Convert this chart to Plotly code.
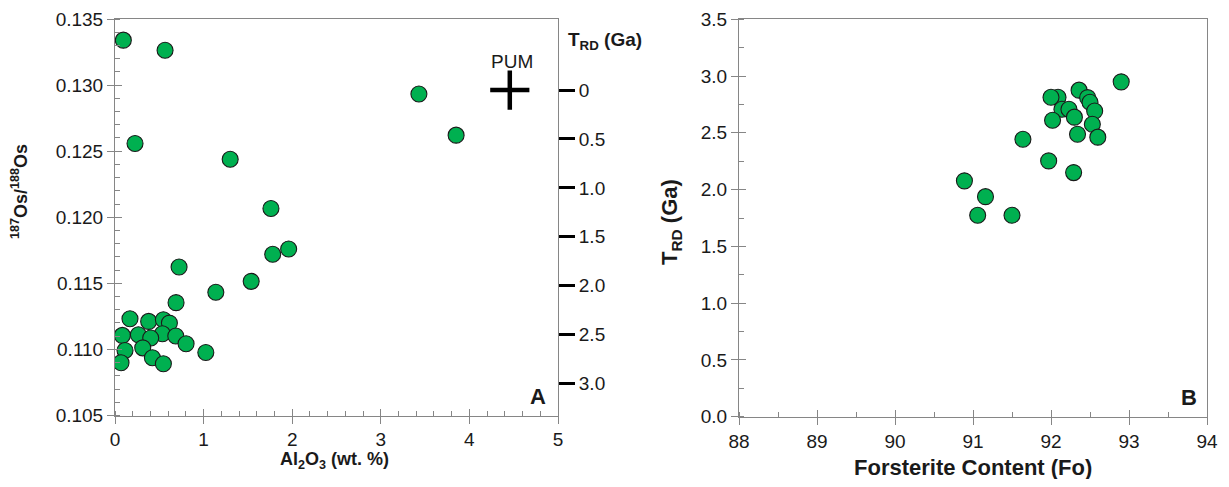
import plotly.graph_objects as go

# ---------- Panel A data ----------
al2o3 = [0.094, 0.565, 0.226, 1.30, 1.76, 1.78, 1.96, 0.723, 1.537, 1.138, 0.689,
         0.169, 0.380, 0.546, 0.614, 0.083, 0.264, 0.535, 0.403, 0.686, 0.802,
         0.113, 0.313, 1.025, 0.068, 0.422, 0.546, 3.43, 3.85]
os_ratio = [0.1334, 0.13263, 0.12558, 0.12439, 0.12066, 0.11720, 0.11760, 0.11624,
            0.11515, 0.11432, 0.11354, 0.11232, 0.11212, 0.11225, 0.11199, 0.11106,
            0.11111, 0.11119, 0.11086, 0.11101, 0.11043, 0.10992, 0.11012, 0.10977,
            0.10899, 0.10937, 0.10892, 0.12932, 0.12621]
pum_al2o3 = [4.456]
pum_os = [0.12962]

al2o3_ticks = [0, 1, 2, 3, 4, 5]
os_ticks = [0.105, 0.110, 0.115, 0.120, 0.125, 0.130, 0.135]
trd_ticks = [0, 0.5, 1.0, 1.5, 2.0, 2.5, 3.0]
trd_ticktext = ["0", "0.5", "1.0", "1.5", "2.0", "2.5", "3.0"]

# ---------- Panel B data ----------
fo = [92.90, 92.36, 92.09, 92.00, 92.47, 92.50, 92.56, 92.14, 92.23, 92.30, 92.02,
      92.53, 92.34, 92.60, 91.64, 91.97, 92.29, 90.89, 91.16, 91.06, 91.50]
trd = [2.949, 2.876, 2.814, 2.814, 2.81, 2.77, 2.693, 2.708, 2.708, 2.638, 2.611,
       2.576, 2.488, 2.462, 2.444, 2.253, 2.150, 2.077, 1.938, 1.774, 1.774]
fo_ticks = [88, 89, 90, 91, 92, 93, 94]
trd_b_ticks = [0, 0.5, 1.0, 1.5, 2.0, 2.5, 3.0, 3.5]

GREEN = "#00B050"
FONT = "Liberation Sans, Arial, sans-serif"
AXC = "#868686"
TXT = "#1a1a1a"

# page has an 8px body margin; figure fills the rest of the 1229x487 window
OFF = 8
FW, FH = 1229 - 2 * OFF, 487 - 2 * OFF


def PX(px):
    return (px - OFF) / FW


def PY(py):
    return 1 - (py - OFF) / FH


fig = go.Figure()
mk = dict(size=16, color=GREEN, line=dict(color="#1a1a1a", width=1.1))
fig.add_trace(go.Scatter(x=al2o3, y=os_ratio, mode="markers", marker=mk,
                         xaxis="x", yaxis="y", showlegend=False))
fig.add_trace(go.Scatter(x=pum_al2o3, y=pum_os, mode="markers",
                         marker=dict(symbol="cross-thin", size=28,
                                     line=dict(color="black", width=4.5)),
                         xaxis="x", yaxis="y", showlegend=False))
fig.add_trace(go.Scatter(x=fo, y=trd, mode="markers", marker=mk,
                         xaxis="x3", yaxis="y3", showlegend=False))
# empty traces that activate the extra (overlay) axes
for xa, ya in [("x", "y2"), ("x4", "y"), ("x", "y4"), ("x5", "y3"), ("x3", "y5")]:
    fig.add_trace(go.Scatter(x=[None], y=[None], xaxis=xa, yaxis=ya,
                             showlegend=False, hoverinfo="skip"))

tickfont = dict(family=FONT, size=19, color=TXT)
common = dict(showgrid=False, zeroline=False, showline=True, linecolor=AXC,
              linewidth=1, mirror=True, ticks="outside", ticklen=7, tickcolor=AXC,
              tickwidth=1, tickfont=tickfont, automargin=False)
inner = dict(showgrid=False, zeroline=False, showline=False, ticks="inside",
             ticklen=7, tickcolor=AXC, tickwidth=1, showticklabels=False,
             automargin=False)

fig.update_layout(
    width=FW, height=FH,
    margin=dict(l=0, r=0, t=0, b=0, autoexpand=False),
    paper_bgcolor="white", plot_bgcolor="white",
    font=dict(family=FONT, color=TXT),
    xaxis=dict(domain=[PX(115), PX(558)], range=[0, 5], anchor="y",
               tickvals=al2o3_ticks,
               minor=dict(dtick=0.2, ticks="inside", ticklen=5, tickcolor=AXC),
               **common),
    yaxis=dict(domain=[PY(415.5), PY(19)], range=[0.105, 0.135], anchor="x",
               tickvals=os_ticks, tickformat=".3f",
               minor=dict(dtick=0.001, ticks="inside", ticklen=5, tickcolor=AXC),
               **common),
    yaxis2=dict(overlaying="y", anchor="x", side="right",
                range=[3.328, -0.727], showgrid=False, zeroline=False, showline=False,
                tickvals=trd_ticks, ticktext=trd_ticktext, ticks="outside",
                ticklen=16, tickwidth=2.5, tickcolor="black", tickfont=tickfont,
                automargin=False),
    xaxis4=dict(overlaying="x", anchor="y", range=[0, 5], tickvals=al2o3_ticks, **inner),
    yaxis4=dict(overlaying="y", anchor="x", range=[0.105, 0.135], tickvals=os_ticks,
                **inner),
    xaxis3=dict(domain=[PX(739), PX(1207)], range=[88, 94], anchor="y3",
                tickvals=fo_ticks,
                minor=dict(dtick=0.5, ticks="inside", ticklen=5, tickcolor=AXC),
                **common),
    yaxis3=dict(domain=[PY(416.7), PY(19.3)], range=[0, 3.5], anchor="x3",
                tickvals=trd_b_ticks, tickformat=".1f",
                minor=dict(dtick=0.25, ticks="inside", ticklen=5, tickcolor=AXC),
                **common),
    xaxis5=dict(overlaying="x3", anchor="y3", range=[88, 94], tickvals=fo_ticks, **inner),
    yaxis5=dict(overlaying="y3", anchor="x3", range=[0, 3.5], tickvals=trd_b_ticks,
                **inner),
)

ann = []


def A(text, x, y, size, **kw):
    d = dict(text=text, x=PX(x), y=PY(y), xref="paper", yref="paper", showarrow=False,
             font=dict(family=FONT, size=size, color=TXT), xanchor="center", yanchor="middle")
    d.update(kw)
    ann.append(d)


A("<b>Al<sub>2</sub>O<sub>3</sub> (wt. %)</b>", 334, 460, 18)
A("<b><sup>187</sup>Os/<sup>188</sup>Os</b>", 19, 192, 18, textangle=-90)
A("<b>T<sub>RD</sub> (Ga)</b>", 605, 41, 19)
A("<b>A</b>", 538, 396, 22)
A("<b>Forsterite Content (Fo)</b>", 973, 467, 22)
A("<b>T<sub>RD</sub> (Ga)</b>", 671, 222, 22, textangle=-90)
A("<b>B</b>", 1189, 397, 22)
ann.append(dict(text="PUM", x=pum_al2o3[0], y=pum_os[0], xref="x", yref="y",
                showarrow=False, yshift=29, xshift=2,
                font=dict(family=FONT, size=19, color=TXT)))
fig.update_layout(annotations=ann)

fig.write_html("out.html", config={"displayModeBar": False})
